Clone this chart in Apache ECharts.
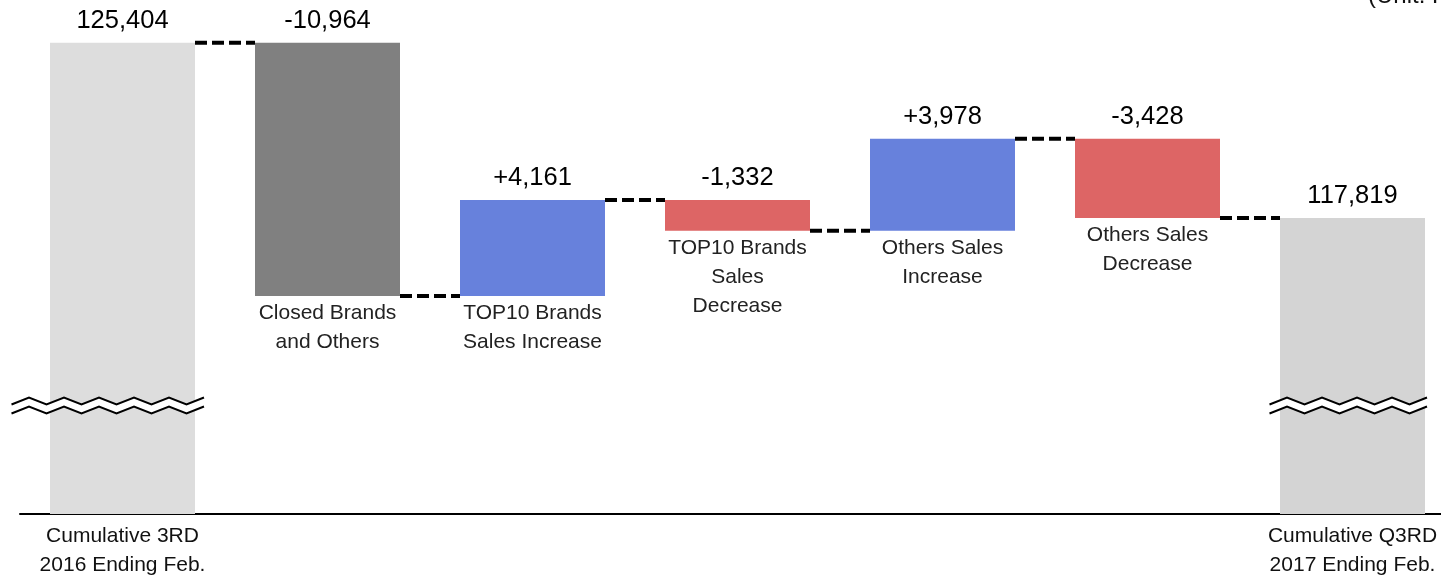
<!DOCTYPE html>
<html>
<head>
<meta charset="utf-8">
<script src="https://cdn.jsdelivr.net/npm/echarts@6/dist/echarts.min.js"></script>
<style>html,body{margin:0;padding:0;background:#fff}#c{width:1441px;height:576px}</style>
</head>
<body>
<div id="c"></div>
<script>
const categories = ['Cumulative 3RD\n2016 Ending Feb.', 'Closed Brands\nand Others', 'TOP10 Brands\nSales Increase', 'TOP10 Brands\nSales\nDecrease', 'Others Sales\nIncrease', 'Others Sales\nDecrease', 'Cumulative Q3RD\n2017 Ending Feb.'];
const changes = [125404, -10964, 4161, -1332, 3978, -3428, 117819];
const kinds = ['total', 'closed', 'up', 'down', 'up', 'down', 'total'];
const valueLabels = ['125,404', '-10,964', '+4,161', '-1,332', '+3,978', '-3,428', '117,819'];
const unitText = '(Unit: KRW million)';

const colors = { total: '#dddddd', total2: '#d4d4d4', closed: '#808080', up: '#6781dc', down: '#dd6565' };
const FONT = "'Liberation Sans', Arial, sans-serif";
const BAR_W = 145;

// build waterfall
const baseData = [], valData = [], levels = [];
let running = 0;
changes.forEach((c, i) => {
  if (kinds[i] === 'total') {
    baseData.push(0);
    valData.push({ value: c, itemStyle: { color: i === 0 ? colors.total : colors.total2 } });
    running = c;
  } else {
    const next = running + c;
    baseData.push(Math.min(running, next));
    valData.push({ value: Math.abs(c), itemStyle: { color: colors[kinds[i]] } });
    running = next;
  }
  levels.push(running);
});
const connectorData = [];
for (let i = 0; i < changes.length - 1; i++) connectorData.push([i, levels[i]]);
const BREAK_VALUE = 109700;
const breakData = [[0, BREAK_VALUE], [changes.length - 1, BREAK_VALUE]];

const chart = echarts.init(document.getElementById('c'));
chart.setOption({
  animation: false,
  textStyle: { fontFamily: FONT },
  grid: { left: 20, top: 6, width: 1435, height: 508, containLabel: false, outerBoundsMode: 'none' },
  xAxis: {
    type: 'category',
    data: categories,
    axisLine: { lineStyle: { color: '#000', width: 2 } },
    axisTick: { show: false },
    axisLabel: {
      interval: 0, margin: 8, fontSize: 21, lineHeight: 29, color: '#111', fontFamily: FONT,
      formatter: (v, idx) => (kinds[idx] === 'total' ? v : '')
    }
  },
  yAxis: { type: 'value', min: 105000, max: 127000, show: false, splitLine: { show: false } },
  graphic: [{
    type: 'text', left: 1368, top: -16,
    style: { text: unitText, font: '24px ' + FONT, fill: '#111' }
  }],
  series: [
    {
      type: 'bar', stack: 'w', barWidth: BAR_W, data: baseData,
      itemStyle: { color: 'transparent' },
      label: {
        show: true, position: 'insideTop', distance: 3,
        fontSize: 21, lineHeight: 29, color: '#222', fontFamily: FONT,
        formatter: p => (kinds[p.dataIndex] === 'total' ? '' : categories[p.dataIndex])
      },
      z: 1
    },
    {
      type: 'bar', stack: 'w', barWidth: BAR_W, data: valData,
      label: {
        show: true, position: 'top', distance: 9, fontSize: 25.5, color: '#000', fontFamily: FONT,
        formatter: p => valueLabels[p.dataIndex]
      },
      z: 2
    },
    {
      type: 'custom', data: connectorData, z: 3,
      renderItem: (params, api) => {
        const p = api.coord([api.value(0), api.value(1)]);
        const bw = api.size([1, 0])[0];
        return {
          type: 'line',
          shape: { x1: p[0] + BAR_W / 2, y1: p[1], x2: p[0] + bw - BAR_W / 2, y2: p[1] },
          style: { stroke: '#000', lineWidth: 4, lineDash: [12, 5] }
        };
      }
    },
    {
      type: 'custom', data: breakData, z: 5,
      renderItem: (params, api) => {
        const p = api.coord([api.value(0), api.value(1)]);
        const left = params.dataIndex === 0 ? p[0] - 111 : p[0] - 83;
        const right = params.dataIndex === 0 ? p[0] + 82 : p[0] + 80;
        const half = 17.5;
        const top = [], bot = [];
        for (let k = 0; left + k * half <= right + 0.5; k++) {
          const xx = left + k * half;
          const up = k % 2 === 1;
          top.push([xx, p[1] + (up ? -8 : -1)]);
          bot.push([xx, p[1] + (up ? 1 : 8)]);
        }
        const poly = top.concat(bot.slice().reverse());
        return {
          type: 'group',
          children: [
            { type: 'polygon', shape: { points: poly }, style: { fill: '#fff', stroke: null } },
            { type: 'polyline', shape: { points: top }, style: { stroke: '#000', lineWidth: 2, fill: null } },
            { type: 'polyline', shape: { points: bot }, style: { stroke: '#000', lineWidth: 2, fill: null } }
          ]
        };
      }
    }
  ]
});
</script>
</body>
</html>
